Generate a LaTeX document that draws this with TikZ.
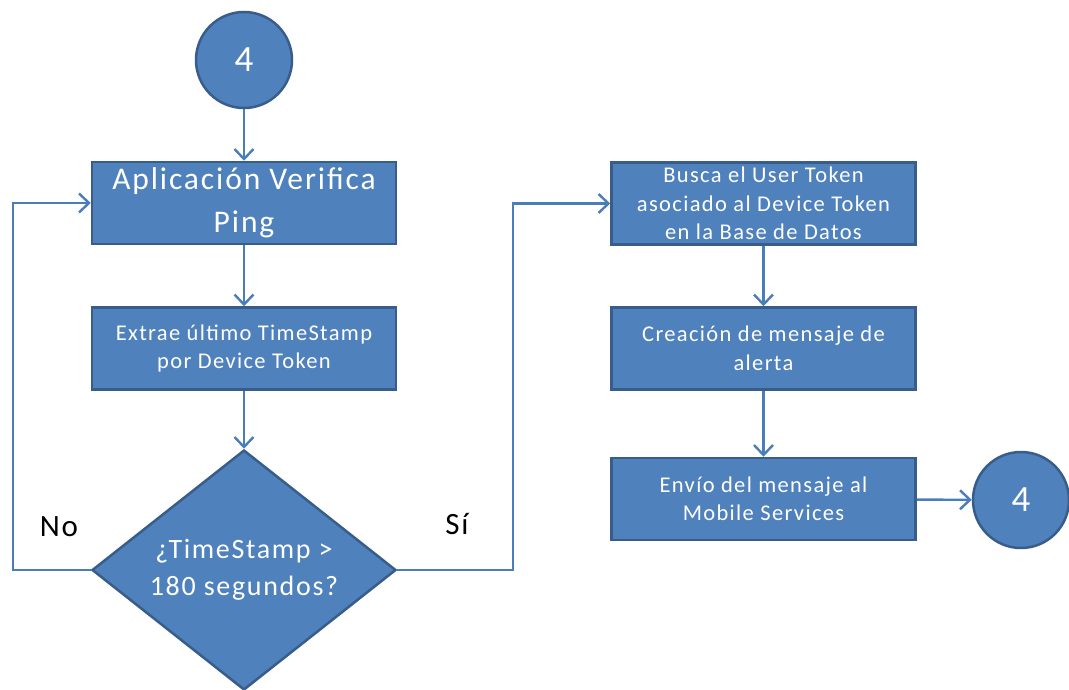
\documentclass[tikz,border=0pt]{standalone}
\usepackage{fontspec}
\setmainfont{Carlito}[LetterSpace=6]
\usetikzlibrary{shapes.geometric,arrows.meta}
\definecolor{boxfill}{HTML}{4F81BD}
\definecolor{boxedge}{HTML}{385D8A}
\definecolor{linkcol}{HTML}{4A7EBB}
\tikzset{
  stepbox/.style={rectangle, fill=boxfill, draw=boxedge, line width=2.5pt,
    minimum width=304pt, minimum height=82pt, text=white, align=center,
    inner sep=0pt, font=\fontsize{22.5}{28.5}\selectfont},
  bigbox/.style={stepbox, font=\fontsize{31.5}{43}\selectfont},
  decision/.style={diamond, fill=boxfill, draw=boxedge, line width=2.5pt,
    minimum width=304pt, minimum height=240pt, shape aspect=1.27,
    inner sep=0pt, text=white, align=center, font=\fontsize{28}{37}\selectfont},
  connector/.style={circle, fill=boxfill, draw=boxedge, line width=2.5pt,
    minimum size=96pt, inner sep=0pt, text=white, font=\fontsize{37}{40}\selectfont},
  link/.style={draw=linkcol, line width=2.4pt,
    -{Straight Barb[length=10pt,width=19pt]}},
  tag/.style={text=black, font=\fontsize{31}{34}\selectfont}
}
\begin{document}
\begin{tikzpicture}[x=1pt,y=-1pt]
  \useasboundingbox (0,0) rectangle (1069,690);

  % left column
  \node[connector] (top) at (244,60) {4};
  \node[bigbox] (verify) at (244,203) {Aplicación Verifica\\Ping};
  \node[stepbox] (extract) at (244,348.5) {Extrae último TimeStamp\\por Device Token};
  \node[decision] (check) at (244,570) {¿TimeStamp >\\180 segundos?};

  % right column
  \node[stepbox] (lookup) at (763.5,203.5) {Busca el User Token\\asociado al Device Token\\en la Base de Datos};
  \node[stepbox] (build) at (763.5,348.5) {Creación de mensaje de\\alerta};
  \node[stepbox] (send) at (763.5,499) {Envío del mensaje al\\Mobile Services};
  \node[connector] (bottom) at (1021,500) {4};

  % branch labels
  \node[tag] (no) at (59,527) {No};
  \node[tag] (yes) at (457,524) {Sí};

  % loop and branch corners
  \coordinate (loopL) at (13,570);
  \coordinate (loopR) at (513,570);

  % connectors
  \draw[link] (top) -- (verify);
  \draw[link] (verify) -- (extract);
  \draw[link] (extract) -- (check);
  \draw[link] (check.west) -- (loopL) |- (verify.west);
  \draw[link] (check.east) -- (loopR) |- (lookup.west);
  \draw[link] (lookup) -- (build);
  \draw[link] (build) -- (send);
  \draw[link] (send) -- (bottom);
\end{tikzpicture}
\end{document}
